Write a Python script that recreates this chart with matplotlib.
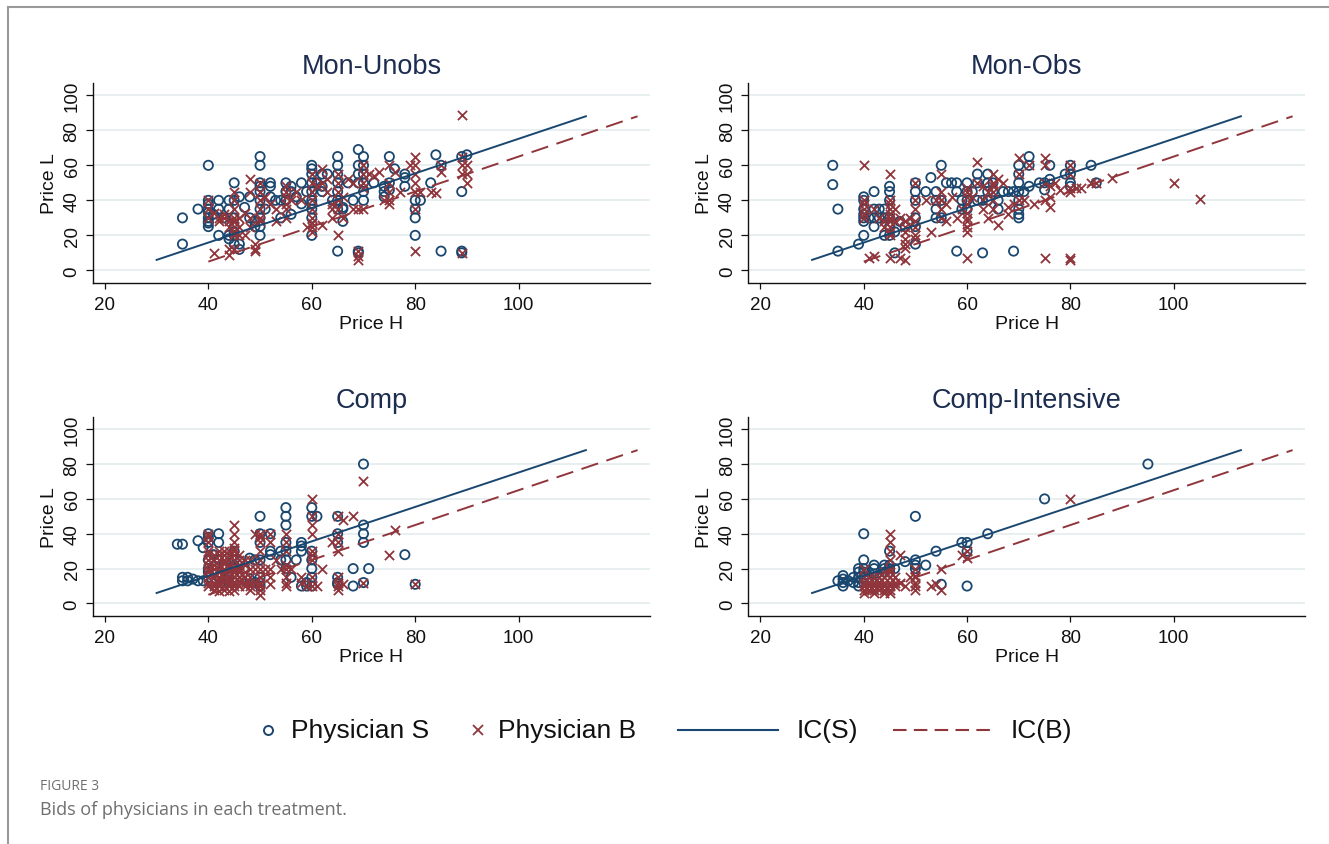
import matplotlib
matplotlib.use("Agg")
import matplotlib.pyplot as plt
from matplotlib.lines import Line2D

# (Price H, Price L) bids
mon_unobs_s = [(35, 30), (35, 15), (38, 35), (40, 60), (40, 40), (40, 38), (40, 35), (40, 33), (40, 30),
               (40, 28), (40, 25), (40, 27), (42, 40), (42, 35), (42, 20), (41, 32), (43, 30), (44, 40),
               (44, 35), (44, 20), (44, 18), (45, 50), (45, 40), (45, 30), (45, 25), (45, 22), (45, 20),
               (45, 15), (46, 12), (46, 15), (46, 42), (47, 36), (48, 42), (48, 30), (49, 28), (49, 25),
               (50, 65), (50, 60), (50, 50), (50, 48), (50, 45), (50, 40), (50, 35), (50, 30), (50, 25),
               (50, 20), (51, 35), (52, 50), (52, 48), (52, 42), (53, 40), (54, 30), (54, 40), (55, 50),
               (55, 45), (55, 40), (56, 48), (56, 45), (56, 32), (57, 42), (58, 50), (58, 38), (59, 45),
               (60, 60), (60, 58), (60, 55), (60, 50), (60, 45), (60, 40), (60, 38), (60, 35), (60, 30),
               (60, 20), (61, 50), (62, 55), (62, 48), (62, 45), (63, 55), (64, 40), (65, 65), (65, 60),
               (65, 55), (65, 50), (65, 45), (65, 40), (65, 35), (65, 11), (66, 36), (66, 28), (66, 35),
               (67, 50), (68, 40), (69, 69), (69, 60), (69, 55), (69, 50), (69, 11), (69, 10), (70, 65),
               (70, 60), (70, 55), (70, 50), (70, 45), (70, 40), (72, 50), (74, 48), (74, 45), (74, 42),
               (75, 65), (75, 50), (75, 46), (76, 58), (78, 55), (78, 53), (78, 48), (80, 40), (80, 35),
               (80, 30), (80, 20), (81, 40), (83, 50), (84, 66), (85, 60), (85, 11), (89, 65), (89, 45),
               (89, 11), (89, 10), (90, 66)]
mon_unobs_b = [(41, 10), (40, 40), (40, 35), (40, 30), (41, 33), (42, 30), (42, 28), (43, 32), (43, 30),
               (44, 28), (44, 25), (44, 12), (44, 9), (45, 45), (45, 40), (45, 35), (45, 30), (45, 28),
               (45, 25), (45, 22), (45, 20), (45, 12), (46, 30), (46, 25), (46, 20), (47, 33), (47, 20),
               (48, 52), (48, 45), (48, 30), (48, 25), (49, 15), (49, 11), (49, 12), (50, 50), (50, 45),
               (50, 40), (50, 35), (50, 30), (50, 28), (51, 42), (52, 38), (53, 35), (53, 28), (55, 48),
               (55, 45), (55, 42), (55, 38), (55, 35), (55, 30), (56, 40), (57, 45), (58, 40), (59, 25),
               (60, 55), (60, 50), (60, 45), (60, 40), (60, 35), (60, 30), (60, 27), (60, 25), (60, 22),
               (61, 48), (62, 58), (62, 50), (62, 26), (63, 52), (63, 45), (64, 38), (64, 35), (64, 30),
               (65, 55), (65, 50), (65, 45), (65, 40), (65, 35), (65, 20), (66, 42), (66, 30), (67, 52),
               (68, 50), (68, 35), (69, 35), (69, 8), (69, 6), (69, 11), (70, 60), (70, 55), (70, 50),
               (70, 47), (70, 35), (71, 55), (72, 54), (73, 56), (74, 40), (75, 60), (75, 50), (75, 45),
               (75, 40), (75, 38), (76, 56), (77, 45), (79, 60), (80, 65), (80, 60), (80, 55), (80, 50),
               (80, 45), (80, 35), (80, 11), (81, 45), (83, 45), (84, 44), (85, 56), (85, 60), (89, 89),
               (89, 60), (89, 55), (89, 65), (89, 10), (90, 60), (90, 55), (90, 50)]

mon_obs_s = [(34, 60), (34, 49), (35, 35), (35, 11), (39, 15), (40, 42), (40, 40), (40, 35), (40, 32),
             (40, 30), (40, 28), (40, 20), (41, 30), (42, 45), (42, 35), (42, 30), (42, 25), (43, 35),
             (43, 30), (44, 35), (44, 30), (44, 20), (45, 48), (45, 45), (45, 40), (45, 30), (45, 25),
             (45, 20), (46, 22), (46, 10), (47, 28), (48, 25), (50, 50), (50, 45), (50, 40), (50, 30),
             (50, 25), (50, 15), (52, 45), (53, 53), (54, 45), (54, 40), (54, 35), (54, 30), (55, 60),
             (55, 40), (55, 30), (56, 50), (57, 50), (58, 50), (58, 45), (58, 11), (59, 40), (59, 35),
             (60, 50), (60, 45), (60, 40), (60, 35), (61, 45), (62, 55), (62, 50), (62, 40), (63, 40),
             (63, 10), (64, 55), (64, 50), (64, 45), (64, 40), (65, 50), (65, 45), (66, 40), (66, 35),
             (67, 45), (68, 45), (69, 11), (69, 45), (70, 60), (70, 55), (70, 50), (70, 45), (70, 40),
             (70, 35), (70, 32), (70, 30), (71, 45), (72, 65), (72, 60), (72, 48), (74, 50), (75, 50),
             (75, 46), (76, 60), (76, 52), (79, 55), (80, 60), (80, 55), (80, 50), (80, 48), (84, 60),
             (85, 50)]
mon_obs_b = [(40, 60), (40, 40), (40, 38), (40, 35), (40, 32), (40, 30), (41, 7), (42, 35), (42, 8),
             (43, 30), (44, 28), (44, 25), (45, 55), (45, 40), (45, 38), (45, 35), (45, 32), (45, 30),
             (45, 28), (45, 25), (45, 22), (45, 20), (45, 7), (46, 35), (46, 28), (47, 7), (47, 30),
             (48, 28), (48, 25), (48, 22), (48, 18), (48, 15), (48, 13), (48, 6), (49, 30), (50, 50),
             (50, 40), (50, 35), (50, 28), (50, 25), (50, 20), (50, 18), (52, 40), (53, 22), (54, 40),
             (55, 55), (55, 45), (55, 40), (55, 35), (55, 30), (56, 38), (56, 28), (57, 42), (58, 30),
             (59, 35), (60, 47), (60, 45), (60, 42), (60, 38), (60, 33), (60, 30), (60, 28), (60, 25),
             (60, 22), (60, 7), (61, 42), (62, 62), (62, 50), (63, 48), (63, 40), (63, 35), (64, 45),
             (64, 30), (65, 55), (65, 50), (65, 48), (65, 45), (65, 40), (65, 35), (66, 52), (66, 26),
             (67, 50), (68, 36), (68, 32), (69, 38), (70, 64), (70, 55), (70, 40), (71, 40), (72, 60),
             (73, 38), (75, 64), (75, 60), (75, 50), (75, 40), (75, 7), (76, 48), (76, 42), (76, 36),
             (77, 50), (78, 46), (80, 60), (80, 55), (80, 47), (80, 45), (80, 7), (80, 6), (81, 47),
             (82, 47), (84, 50), (85, 50), (88, 53), (100, 50), (105, 41)]

comp_s = [(34, 34), (35, 34), (35, 15), (35, 13), (36, 15), (36, 13), (37, 14), (38, 36), (38, 13),
          (39, 13), (39, 32), (40, 40), (40, 38), (40, 35), (40, 25), (40, 20), (40, 18), (40, 15),
          (41, 28), (42, 40), (42, 35), (42, 25), (42, 15), (43, 20), (43, 22), (44, 18), (44, 15),
          (44, 12), (45, 30), (45, 25), (45, 22), (45, 20), (45, 15), (45, 12), (46, 24), (47, 20),
          (48, 26), (48, 14), (49, 25), (49, 12), (50, 50), (50, 40), (50, 35), (50, 25), (50, 15),
          (50, 12), (50, 10), (52, 40), (52, 30), (52, 28), (54, 30), (54, 25), (55, 55), (55, 50),
          (55, 45), (55, 35), (55, 30), (55, 25), (55, 20), (56, 15), (57, 25), (58, 35), (58, 33),
          (58, 30), (58, 10), (59, 12), (59, 10), (60, 55), (60, 50), (60, 30), (60, 25), (60, 20),
          (60, 15), (60, 10), (61, 50), (65, 50), (65, 40), (65, 35), (65, 15), (65, 12), (65, 11),
          (68, 20), (68, 10), (70, 80), (70, 45), (70, 40), (70, 35), (70, 12), (71, 20), (78, 28),
          (80, 11)]
comp_b = [(40, 40), (40, 38), (40, 35), (40, 30), (40, 28), (40, 25), (40, 22), (40, 20), (40, 18),
          (40, 15), (40, 12), (40, 10), (41, 25), (41, 20), (41, 15), (41, 12), (41, 8), (42, 30),
          (42, 28), (42, 25), (42, 22), (42, 20), (42, 18), (42, 15), (42, 12), (42, 10), (42, 7),
          (43, 30), (43, 25), (43, 20), (43, 15), (43, 10), (43, 8), (44, 30), (44, 25), (44, 22),
          (44, 18), (44, 15), (44, 12), (44, 10), (44, 7), (45, 45), (45, 40), (45, 35), (45, 30),
          (45, 28), (45, 25), (45, 20), (45, 18), (45, 15), (45, 12), (45, 10), (45, 8), (46, 20),
          (46, 15), (46, 10), (47, 22), (47, 15), (47, 10), (48, 20), (48, 15), (48, 10), (49, 40),
          (49, 20), (49, 12), (50, 40), (50, 38), (50, 35), (50, 30), (50, 25), (50, 20), (50, 15),
          (50, 12), (50, 10), (50, 8), (50, 5), (51, 20), (52, 40), (52, 35), (52, 20), (52, 15),
          (52, 11), (53, 25), (54, 20), (55, 40), (55, 35), (55, 30), (55, 22), (55, 20), (55, 15),
          (55, 12), (55, 10), (56, 20), (58, 15), (58, 12), (59, 10), (60, 60), (60, 50), (60, 45),
          (60, 40), (60, 30), (60, 28), (60, 25), (60, 15), (60, 10), (61, 10), (62, 20), (64, 35),
          (65, 50), (65, 40), (65, 35), (65, 30), (65, 15), (65, 12), (65, 10), (65, 8), (66, 48),
          (66, 11), (68, 50), (70, 70), (70, 12), (75, 28), (76, 42), (80, 11),
          (41, 28), (41, 22), (41, 17), (41, 10), (42, 14), (43, 28), (43, 23), (43, 18), (43, 13),
          (44, 28), (44, 20), (44, 14), (45, 32), (46, 28), (46, 25), (46, 22), (46, 18), (46, 13),
          (47, 25), (47, 18), (47, 12), (48, 25), (48, 12), (48, 8)]

comp_int_s = [(35, 13), (36, 16), (36, 14), (36, 12), (36, 10), (37, 13), (38, 12), (38, 15), (39, 20),
              (39, 18), (39, 15), (39, 12), (39, 10), (40, 40), (40, 25), (40, 20), (40, 18), (40, 15),
              (40, 12), (41, 15), (41, 18), (42, 22), (42, 20), (42, 17), (43, 15), (44, 22), (44, 20),
              (44, 18), (45, 30), (45, 22), (45, 20), (45, 18), (46, 20), (48, 24), (50, 50), (50, 25),
              (50, 22), (50, 20), (52, 22), (54, 30), (55, 11), (59, 35), (60, 35), (60, 30), (60, 10),
              (64, 40), (75, 60), (95, 80)]
comp_int_b = [(40, 20), (40, 15), (40, 12), (40, 10), (40, 8), (40, 6), (41, 15), (41, 12), (41, 10),
              (41, 8), (42, 15), (42, 12), (42, 10), (42, 8), (42, 6), (43, 15), (43, 12), (43, 10),
              (43, 8), (44, 18), (44, 15), (44, 12), (44, 10), (44, 8), (44, 6), (45, 40), (45, 35),
              (45, 30), (45, 25), (45, 20), (45, 18), (45, 15), (45, 12), (45, 10), (45, 8), (45, 6),
              (46, 15), (46, 12), (46, 10), (47, 28), (47, 12), (48, 10), (49, 15), (50, 20), (50, 16),
              (50, 15), (50, 12), (50, 10), (50, 8), (53, 10), (54, 11), (55, 20), (55, 8), (59, 28),
              (60, 30), (60, 26), (80, 60)]

# incentive-compatibility lines (endpoints)
ic_s_h = [30, 113]
ic_s_l = [6, 88]
ic_b_h = [40, 123]
ic_b_l = [5, 88]

titles = ["Mon-Unobs", "Mon-Obs", "Comp", "Comp-Intensive"]
panels = [(mon_unobs_s, mon_unobs_b), (mon_obs_s, mon_obs_b), (comp_s, comp_b), (comp_int_s, comp_int_b)]

NAVY = "#1a476f"
MAROON = "#90353b"
FONT = ["Liberation Sans", "DejaVu Sans"]
plt.rcParams["font.family"] = FONT

W, H = 1329, 845
fig = plt.figure(figsize=(W / 100, H / 100), dpi=100)

# axes boxes in pixels: left, right, top, bottom
boxes = [(93, 650, 84, 284), (748.5, 1305, 84, 284), (93, 650, 418, 617), (748.5, 1305, 418, 617)]

for (l, r, t, b), title, (s_pts, b_pts) in zip(boxes, titles, panels):
    ax = fig.add_axes([l / W, 1 - b / H, (r - l) / W, (b - t) / H])
    sh, sl = zip(*s_pts)
    bh, bl = zip(*b_pts)
    ax.scatter(sh, sl, s=44, facecolors="none", edgecolors=NAVY, linewidths=1.3, zorder=2)
    ax.scatter(bh, bl, s=44, marker="x", color=MAROON, linewidths=1.3, zorder=3)
    ax.plot(ic_s_h, ic_s_l, color=NAVY, lw=1.4, zorder=4)
    ax.plot(ic_b_h, ic_b_l, color=MAROON, lw=1.4, dashes=(9, 4.5), zorder=4)

    ax.set_xlim(17.7, 125.4)
    ax.set_ylim(-7.2, 107)
    ax.set_xticks([20, 40, 60, 80, 100])
    ax.set_yticks([0, 20, 40, 60, 80, 100])
    ax.grid(axis="y", color="#e6eef0", lw=1.3, zorder=0)
    ax.set_axisbelow(True)
    for sp in ["top", "right"]:
        ax.spines[sp].set_visible(False)
    for sp in ["left", "bottom"]:
        ax.spines[sp].set_linewidth(1.0)
        ax.spines[sp].set_color("#111111")
    ax.tick_params(axis="x", length=4.5, width=0.9, labelsize=13.5, pad=5, colors="#111111")
    ax.tick_params(axis="y", length=5, width=0.9, labelsize=13.5, pad=4, colors="#111111")
    for lab in ax.get_yticklabels():
        lab.set_rotation(90)
        lab.set_va("center")
    ax.set_xlabel("Price H", fontsize=14, labelpad=1, color="#111111")
    ax.set_ylabel("Price L", fontsize=14, labelpad=4, color="#111111")
    ax.set_title(title, fontsize=19.5, color="#1c2d4f", pad=7)

# legend drawn in figure pixels
def fy(y):
    return 1 - y / H

ly = 731
fig.add_artist(Line2D([268 / W], [fy(ly)], marker="o", ms=6.5, mfc="none", mec=NAVY, mew=1.4, ls="none"))
fig.text(291 / W, fy(ly), "Physician S", fontsize=19, va="center", ha="left", color="#111111")
fig.add_artist(Line2D([478 / W], [fy(ly)], marker="x", ms=6.5, color=MAROON, mew=1.3, ls="none"))
fig.text(498 / W, fy(ly), "Physician B", fontsize=19, va="center", ha="left", color="#111111")
fig.add_artist(Line2D([678 / W, 778 / W], [fy(ly)] * 2, color=NAVY, lw=1.5))
fig.text(797 / W, fy(ly), "IC(S)", fontsize=19, va="center", ha="left", color="#111111")
fig.add_artist(Line2D([893 / W, 995 / W], [fy(ly)] * 2, color=MAROON, lw=1.5, dashes=(6.5, 3.5)))
fig.text(1011 / W, fy(ly), "IC(B)", fontsize=19, va="center", ha="left", color="#111111")

# page frame and caption
fig.add_artist(Line2D([8 / W, 8 / W], [0, fy(8)], color="#9a9a9a", lw=1.5))
fig.add_artist(Line2D([8 / W, 1], [fy(8), fy(8)], color="#9a9a9a", lw=1.5))
fig.text(40 / W, fy(787), "FIGURE 3", fontsize=10, va="center", ha="left", color="#6f6f6f",
         family=["Open Sans", "DejaVu Sans"])
fig.text(40 / W, fy(810), "Bids of physicians in each treatment.", fontsize=13, va="center", ha="left",
         color="#6f6f6f", family=["Open Sans", "DejaVu Sans"])

fig.savefig("out.png", dpi=100)
